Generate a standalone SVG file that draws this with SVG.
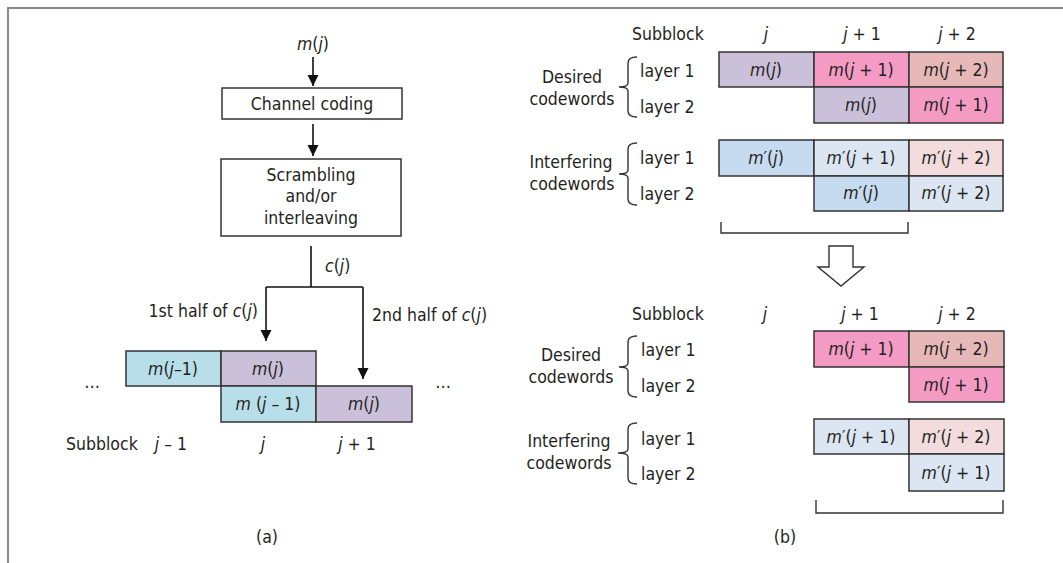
<svg xmlns="http://www.w3.org/2000/svg" width="1063" height="563" viewBox="0 0 1063 563">
<style>
text{font-family:"DejaVu Sans Condensed","DejaVu Sans",sans-serif;font-stretch:condensed;font-size:17.5px;fill:#231f20}
.m{text-anchor:middle}
.i{font-style:italic}
.box{stroke:#333;stroke-width:1.5;fill:#fff}
.cy{fill:#b8dfe9}
.pu{fill:#cbc0da}
.pk{fill:#f39bc3}
.ro{fill:#e6b9b8}
.b1{fill:#c6daf0}
.b2{fill:#dce6f2}
.p2{fill:#f3dcdd}
.ln{stroke:#111;stroke-width:1.6;fill:none}
.br{stroke:#333;stroke-width:1.4;fill:none}
.frame{stroke:#8a8a8a;stroke-width:2;fill:none}
</style>
<defs>
<marker id="ah" markerUnits="userSpaceOnUse" markerWidth="11" markerHeight="12" refX="11" refY="5.5" orient="auto">
<path d="M0,0 L11,5.5 L0,11 z" fill="#111"/>
</marker>
</defs>
<path class="frame" d="M8,563 V8 H1063"/>

<g id="connectors">
<line class="ln" x1="313" y1="57" x2="313" y2="86" marker-end="url(#ah)"/>
<line class="ln" x1="313" y1="124" x2="313" y2="156" marker-end="url(#ah)"/>
<path class="ln" d="M311,246 V287 M266,287 H363"/>
<line class="ln" x1="266" y1="287" x2="266" y2="341" marker-end="url(#ah)"/>
<line class="ln" x1="363" y1="287" x2="363" y2="379" marker-end="url(#ah)"/>
</g>

<g id="input-label"><text class="m" x="313" y="50"><tspan class="i">m</tspan>(<tspan class="i">j</tspan>)</text></g>
<g id="channel-coding">
<rect class="box" x="222" y="88" width="180" height="31"/>
<text class="m" x="312" y="110">Channel coding</text>
</g>
<g id="scrambling">
<rect class="box" x="221" y="159" width="180" height="77"/>
<text class="m" x="311" y="181">Scrambling</text>
<text class="m" x="311" y="202">and/or</text>
<text class="m" x="311" y="224">interleaving</text>
</g>
<g id="labels-a">
<text x="325" y="272"><tspan class="i">c</tspan>(<tspan class="i">j</tspan>)</text>
<text x="258" y="317" text-anchor="end">1st half of <tspan class="i">c</tspan>(<tspan class="i">j</tspan>)</text>
<text x="372" y="321">2nd half of <tspan class="i">c</tspan>(<tspan class="i">j</tspan>)</text>
<text class="m" x="92" y="388">…</text>
<text class="m" x="443" y="388">…</text>
<text x="66" y="450">Subblock</text>
<text class="m" x="171" y="450"><tspan class="i">j</tspan> – 1</text>
<text class="m" x="263" y="450"><tspan class="i">j</tspan></text>
<text class="m" x="357" y="450"><tspan class="i">j</tspan> + 1</text>
<text class="m" x="267" y="543">(a)</text>
</g>
<g id="blocks-a">
<rect class="box cy" x="126" y="351" width="95" height="35"/>
<rect class="box pu" x="221" y="351" width="95" height="35"/>
<rect class="box cy" x="221" y="386" width="95" height="36"/>
<rect class="box pu" x="316" y="386" width="96" height="36"/>
<text class="m" x="173" y="375"><tspan class="i">m</tspan>(<tspan class="i">j</tspan>–1)</text>
<text class="m" x="268" y="375"><tspan class="i">m</tspan>(<tspan class="i">j</tspan>)</text>
<text class="m" x="268" y="410"><tspan class="i">m</tspan> (<tspan class="i">j</tspan> – 1)</text>
<text class="m" x="364" y="410"><tspan class="i">m</tspan>(<tspan class="i">j</tspan>)</text>
</g>

<g id="table-before">
<text x="632" y="40">Subblock</text>
<text class="m" x="766" y="40"><tspan class="i">j</tspan></text>
<text class="m" x="862" y="40"><tspan class="i">j</tspan> + 1</text>
<text class="m" x="957" y="40"><tspan class="i">j</tspan> + 2</text>
<text class="m" x="572" y="83">Desired</text>
<text class="m" x="572" y="105">codewords</text>
<path class="br" d="M637,57 Q628,57 628,63 V83 Q628,87 619,87 Q628,87 628,91 V111 Q628,117 637,117"/>
<text x="640" y="77">layer 1</text>
<text x="640" y="113">layer 2</text>
<rect class="box pu" x="719" y="52" width="95" height="35"/>
<rect class="box pk" x="814" y="52" width="95" height="35"/>
<rect class="box ro" x="909" y="52" width="94" height="35"/>
<rect class="box pu" x="814" y="87" width="95" height="36"/>
<rect class="box pk" x="909" y="87" width="94" height="36"/>
<text class="m" x="766" y="76"><tspan class="i">m</tspan>(<tspan class="i">j</tspan>)</text>
<text class="m" x="861" y="76"><tspan class="i">m</tspan>(<tspan class="i">j</tspan> + 1)</text>
<text class="m" x="956" y="76"><tspan class="i">m</tspan>(<tspan class="i">j</tspan> + 2)</text>
<text class="m" x="861" y="111"><tspan class="i">m</tspan>(<tspan class="i">j</tspan>)</text>
<text class="m" x="956" y="111"><tspan class="i">m</tspan>(<tspan class="i">j</tspan> + 1)</text>
<text class="m" x="571" y="168">Interfering</text>
<text class="m" x="572" y="190">codewords</text>
<path class="br" d="M637,143 Q628,143 628,149 V170 Q628,174 619,174 Q628,174 628,178 V199 Q628,205 637,205"/>
<text x="640" y="164">layer 1</text>
<text x="640" y="200">layer 2</text>
<rect class="box b1" x="719" y="140" width="95" height="36"/>
<rect class="box b2" x="814" y="140" width="95" height="36"/>
<rect class="box p2" x="909" y="140" width="94" height="36"/>
<rect class="box b1" x="814" y="176" width="95" height="35"/>
<rect class="box b2" x="909" y="176" width="94" height="35"/>
<text class="m" x="766" y="164"><tspan class="i">m</tspan>′(<tspan class="i">j</tspan>)</text>
<text class="m" x="861" y="164"><tspan class="i">m</tspan>′(<tspan class="i">j</tspan> + 1)</text>
<text class="m" x="956" y="164"><tspan class="i">m</tspan>′(<tspan class="i">j</tspan> + 2)</text>
<text class="m" x="861" y="199"><tspan class="i">m</tspan>′(<tspan class="i">j</tspan>)</text>
<text class="m" x="956" y="199"><tspan class="i">m</tspan>′(<tspan class="i">j</tspan> + 2)</text>
<path class="br" d="M721,222 V233 H908 V222"/>
</g>

<g id="hollow-arrow">
<polygon points="829,246 853,246 853,267 864,267 841,286 818,267 829,267" fill="#fff" stroke="#333" stroke-width="1.4"/>
</g>

<g id="table-after">
<text x="632" y="320">Subblock</text>
<text class="m" x="765" y="320"><tspan class="i">j</tspan></text>
<text class="m" x="860" y="320"><tspan class="i">j</tspan> + 1</text>
<text class="m" x="957" y="320"><tspan class="i">j</tspan> + 2</text>
<text class="m" x="571" y="361">Desired</text>
<text class="m" x="571" y="383">codewords</text>
<path class="br" d="M637,336 Q628,336 628,342 V363 Q628,367 619,367 Q628,367 628,371 V391 Q628,397 637,397"/>
<text x="641" y="356">layer 1</text>
<text x="641" y="392">layer 2</text>
<rect class="box pk" x="814" y="331" width="95" height="36"/>
<rect class="box ro" x="909" y="331" width="95" height="36"/>
<rect class="box pk" x="909" y="367" width="95" height="35"/>
<text class="m" x="861" y="355"><tspan class="i">m</tspan>(<tspan class="i">j</tspan> + 1)</text>
<text class="m" x="956" y="355"><tspan class="i">m</tspan>(<tspan class="i">j</tspan> + 2)</text>
<text class="m" x="956" y="391"><tspan class="i">m</tspan>(<tspan class="i">j</tspan> + 1)</text>
<text class="m" x="569" y="447">Interfering</text>
<text class="m" x="569" y="469">codewords</text>
<path class="br" d="M637,423 Q628,423 628,429 V449 Q628,453 618,453 Q628,453 628,457 V478 Q628,484 637,484"/>
<text x="641" y="445">layer 1</text>
<text x="641" y="480">layer 2</text>
<rect class="box b2" x="814" y="419" width="95" height="35"/>
<rect class="box p2" x="909" y="419" width="95" height="35"/>
<rect class="box b2" x="909" y="454" width="95" height="37"/>
<text class="m" x="861" y="443"><tspan class="i">m</tspan>′(<tspan class="i">j</tspan> + 1)</text>
<text class="m" x="956" y="443"><tspan class="i">m</tspan>′(<tspan class="i">j</tspan> + 2)</text>
<text class="m" x="956" y="479"><tspan class="i">m</tspan>′(<tspan class="i">j</tspan> + 1)</text>
<path class="br" d="M816,500 V513 H1003 V500"/>
<text class="m" x="785" y="543">(b)</text>
</g>
</svg>
